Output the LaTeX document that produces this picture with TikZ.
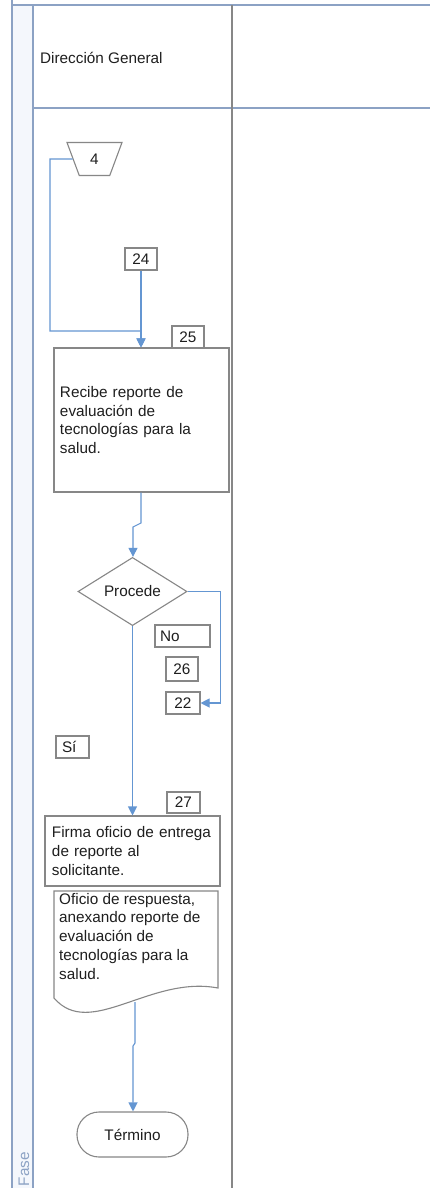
\documentclass[tikz,border=0pt]{standalone}
\usepackage{fontspec}
\setmainfont{Liberation Sans}
\usetikzlibrary{shapes.geometric,arrows.meta,calc}
\definecolor{frameblue}{RGB}{140,162,196}
\definecolor{boxgray}{RGB}{135,135,135}
\definecolor{flowblue}{RGB}{100,150,210}
\definecolor{txt}{RGB}{30,30,30}
\definecolor{strip}{RGB}{244,247,252}
\newcommand\dgf{\fontsize{15.3bp}{18.7bp}\selectfont}
\begin{document}
\begin{tikzpicture}[x=1bp,y=-1bp,
 every node/.style={font=\dgf, text=txt},
 frameline/.style={draw=frameblue, line width=1.5bp},
 divline/.style={draw=boxgray, line width=1.3bp},
 procbox/.style={draw=boxgray, line width=1.1bp, rectangle, align=left, inner ysep=0pt},
 lblbox/.style={draw=boxgray, line width=1.1bp, rectangle, inner sep=0pt, align=center},
 flow/.style={draw=flowblue, line width=1.1bp, -{Triangle[length=9bp,width=9bp]}},
 flowplain/.style={draw=flowblue, line width=1.1bp},
]
% canvas
\fill[white] (0,0) rectangle (430,1188);
\useasboundingbox (0,0) rectangle (430,1188);
\fill[strip] (12,5) rectangle (33,1188);
% frame
\draw[frameline] (12,0) -- (12,1188);
\draw[frameline] (33,5) -- (33,1188);
\draw[frameline] (12,5) -- (430,5);
\draw[frameline] (33,108) -- (430,108);
\draw[divline] (232,5) -- (232,1188);

\node[anchor=west, inner sep=0pt] (lane) at (40,58) {Dirección General};
\node[rotate=90, inner sep=0pt, text=frameblue] (fase) at (24,1169) {Fase};

% shapes
\node[draw=boxgray, line width=1.1bp, trapezium, shape border rotate=180,
      trapezium left angle=72, trapezium right angle=72, trapezium stretches=true,
      minimum width=55bp, minimum height=33bp, inner sep=0pt] (t4) at (94.5,159) {4};
\node[lblbox, minimum width=32bp, minimum height=22bp] (n24) at (141,259) {24};
\node[lblbox, minimum width=32bp, minimum height=22bp] (n25) at (188,337) {25};
\node[procbox, text width=163bp, inner xsep=6bp, minimum height=144bp] (b25) at (141.5,420)
  {Recibe reporte de\\evaluación de\\tecnologías para la\\salud.};
\node[draw=boxgray, line width=1.1bp, diamond, minimum width=109bp, minimum height=65bp,
      inner sep=0pt] (dec) at (132.5,591.5) {Procede};
\node[lblbox, text width=45bp, inner xsep=5bp, align=left, minimum height=22bp] (nno) at (182.5,636) {No};
\node[lblbox, minimum width=32bp, minimum height=24bp] (n26) at (182,669) {26};
\node[lblbox, minimum width=34bp, minimum height=22bp] (n22) at (183,703) {22};
\node[lblbox, text width=21bp, inner xsep=6bp, align=left, minimum height=22bp] (nsi) at (72.5,747) {Sí};
\node[lblbox, minimum width=33bp, minimum height=21bp] (n27) at (183.5,802.5) {27};
\node[procbox, text width=161bp, inner xsep=7bp, minimum height=70bp] (b27) at (132.5,851)
  {Firma oficio de entrega\\de reporte al\\solicitante.};
% document
\draw[draw=boxgray, line width=1.1bp] (54,891) -- (218,891) -- (218,988)
  .. controls (150,975) and (90,1040) .. (54,998) -- cycle;
\node[anchor=north west, inner sep=0pt, align=left] (doc) at (59,893)
  {Oficio de respuesta,\\anexando reporte de\\evaluación de\\tecnologías para la\\salud.};
\node[draw=boxgray, line width=1.1bp, rectangle, rounded corners=22bp,
      minimum width=111bp, minimum height=45bp, inner sep=0pt] (term) at (132.5,1134.5) {Término};

% connectors
\coordinate (c1) at (50,159);
\coordinate (c2) at (50,331);
\coordinate (c3) at (141,331);
\draw[flowplain] (t4) -- (c1) -- (c2) -- (c3);
\draw[flow] (c3) -- (c3 |- b25.north);
\draw[flow] (n24) -- (n24 |- b25.north);
\coordinate (j1) at (141,523);
\coordinate (j2) at (133,527);
\draw[flow] (b25.south -| j1) -- (j1) -- (j2) -- (j2 |- dec.north);
\draw[flow] (dec.east) -| ($(n22.east)+(20,0)$) -- (n22.east);
\draw[flow] (dec.south) -- (dec.south |- b27.north);
\coordinate (d1) at (135,1002);
\coordinate (d2) at (135,1043);
\coordinate (d3) at (133,1046);
\draw[flow] (d1) -- (d2) -- (d3) -- (d3 |- term.north);
\end{tikzpicture}
\end{document}
